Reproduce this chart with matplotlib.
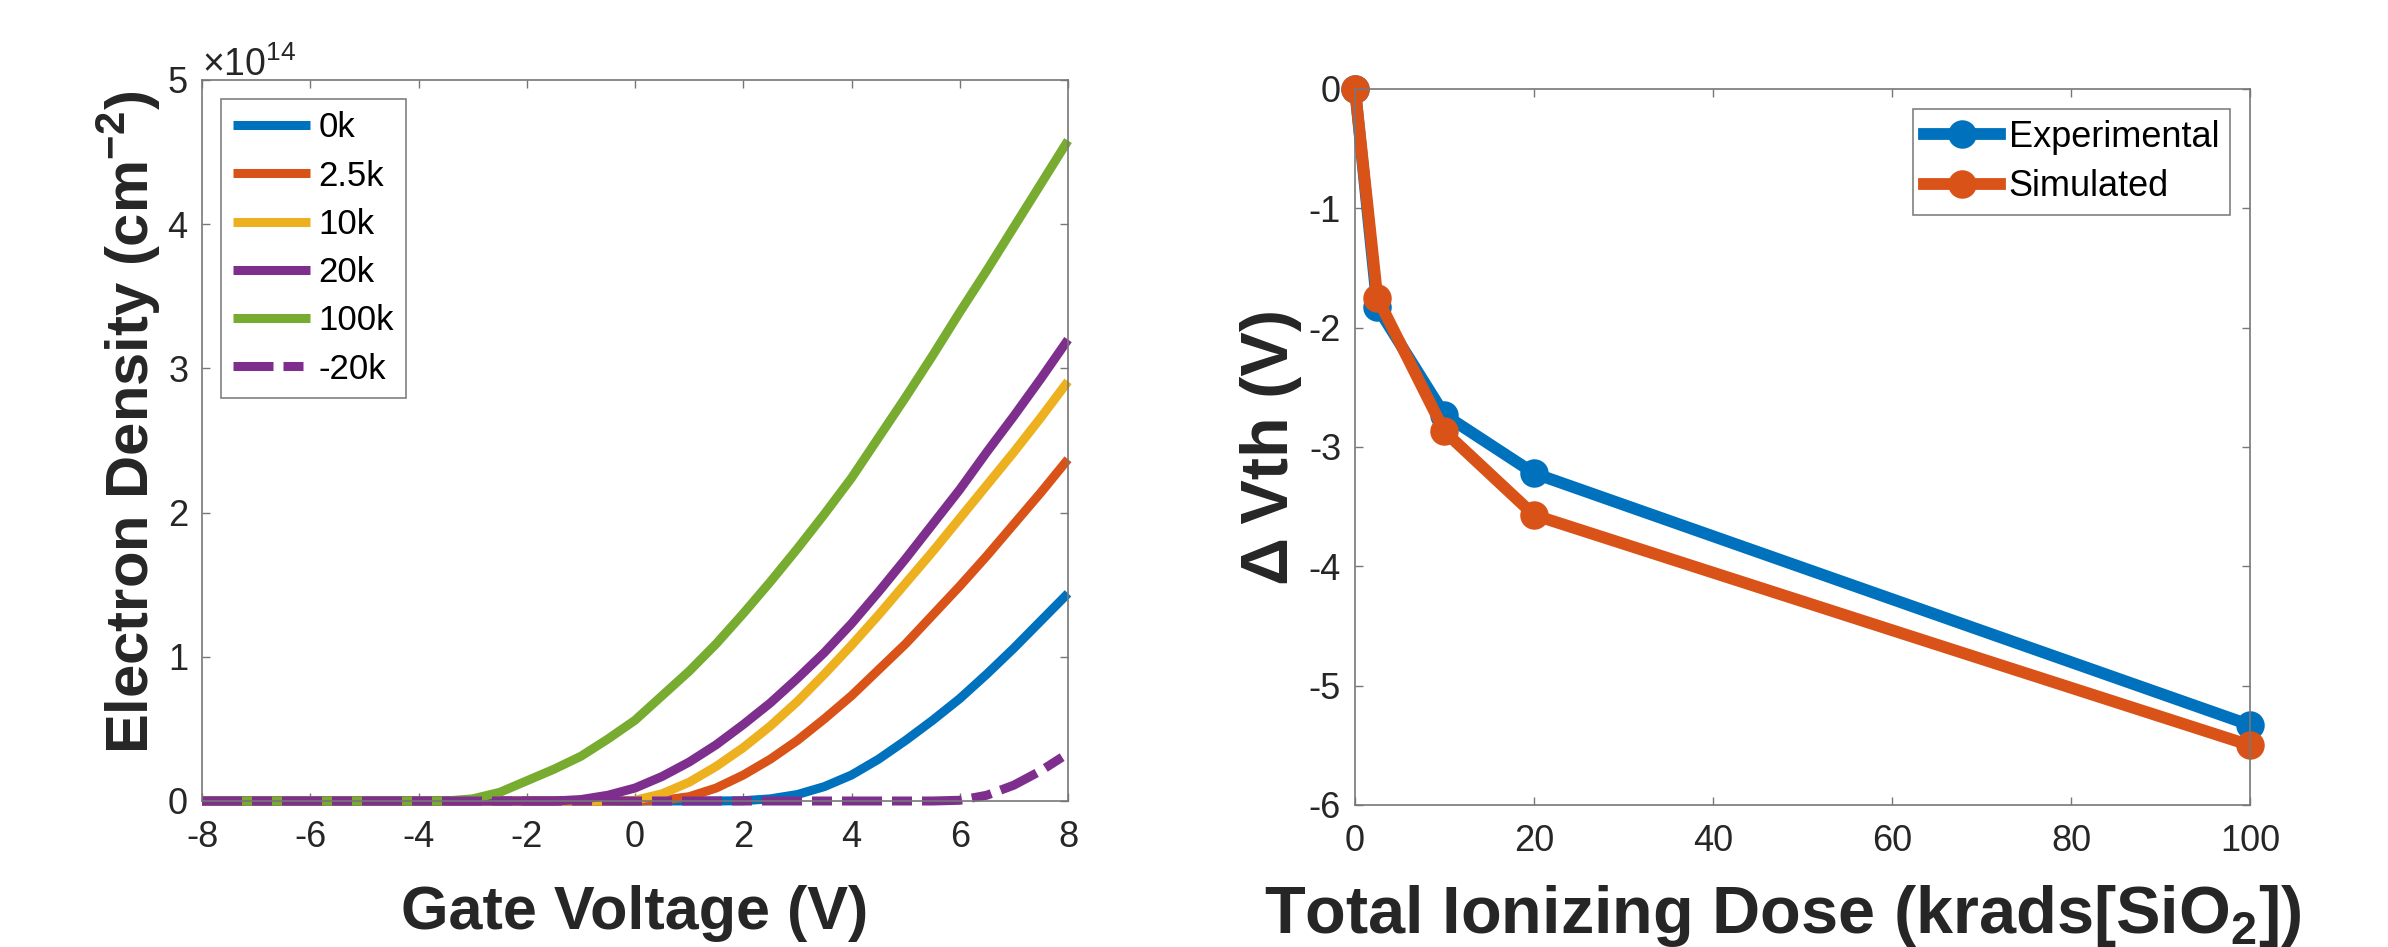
import numpy as np
import matplotlib.pyplot as plt
from matplotlib.ticker import ScalarFormatter, MultipleLocator

plt.rcParams['font.family'] = ['Liberation Sans', 'DejaVu Sans']
plt.rcParams['mathtext.fontset'] = 'custom'
plt.rcParams['mathtext.rm'] = 'Liberation Sans'
plt.rcParams['mathtext.bf'] = 'Liberation Sans:bold'
plt.rcParams['axes.unicode_minus'] = False
plt.rcParams['lines.scale_dashes'] = False

#----------------------------------------------------------------------
# left panel: electron density (units of 1e14 cm^-2) vs gate voltage
v_0k = [-8, 1.5, 2, 2.5, 3, 3.5, 4, 4.5, 5, 5.5, 6, 6.5, 7, 7.5, 8]
n_0k = [0, 0, 0.002, 0.015, 0.045, 0.10, 0.18, 0.29, 0.42, 0.56, 0.71, 0.88, 1.06, 1.25, 1.44]

v_2k5 = [-8, 0, 0.5, 1, 1.5, 2, 2.5, 3, 3.5, 4, 4.5, 5, 5.5, 6, 6.5, 7, 7.5, 8]
n_2k5 = [0, 0, 0.005, 0.03, 0.09, 0.18, 0.29, 0.42, 0.57, 0.73, 0.91, 1.09, 1.29, 1.49, 1.70, 1.92, 2.14, 2.37]

v_10k = [-8, -0.5, 0, 0.5, 1, 1.5, 2, 2.5, 3, 3.5, 4, 4.5, 5, 5.5, 6, 6.5, 7, 7.5, 8]
n_10k = [0, 0, 0.005, 0.05, 0.13, 0.24, 0.37, 0.52, 0.69, 0.88, 1.08, 1.29, 1.51, 1.73, 1.96, 2.19, 2.42, 2.66, 2.91]

v_20k = [-8, -1.5, -1, -0.5, 0, 0.5, 1, 1.5, 2, 2.5, 3, 3.5, 4, 4.5, 5, 5.5, 6, 6.5, 7, 7.5, 8]
n_20k = [0, 0, 0.01, 0.04, 0.09, 0.17, 0.27, 0.39, 0.53, 0.68, 0.85, 1.03, 1.23, 1.45, 1.68, 1.92, 2.16, 2.42, 2.67, 2.93, 3.20]

v_100k = [-8, -3.5, -3, -2.5, -2, -1.5, -1, -0.5, 0, 0.5, 1, 1.5, 2, 2.5, 3, 3.5, 4, 4.5, 5, 5.5, 6, 6.5, 7, 7.5, 8]
n_100k = [0, 0, 0.015, 0.06, 0.14, 0.22, 0.31, 0.43, 0.56, 0.73, 0.90, 1.09, 1.30, 1.52, 1.75, 1.99, 2.24, 2.52, 2.80, 3.09, 3.39, 3.68, 3.98, 4.28, 4.58]

v_m20k = [-8, 5.5, 6, 6.5, 7, 7.5, 8]
n_m20k = [0, 0, 0.005, 0.04, 0.11, 0.21, 0.33]

# right panel: threshold shift vs dose
dose = [0, 2.5, 10, 20, 100]
dvth_exp = [0, -1.83, -2.73, -3.22, -5.33]
dvth_sim = [0, -1.75, -2.87, -3.57, -5.50]

#----------------------------------------------------------------------
blue = '#0072BD'
orange = '#D95319'
yellow = '#EDB120'
purple = '#7E2F8E'
green = '#77AC30'
txt = '#262626'
axc = '#777777'

W, H = 2388, 947
fig = plt.figure(figsize=(W / 100, H / 100), dpi=100)
ax1 = fig.add_axes([202 / W, 1 - 801 / H, 866 / W, 721 / H])
ax2 = fig.add_axes([1355 / W, 1 - 805 / H, 895 / W, 716 / H])

series = [
    (v_0k, n_0k, blue, '0k'),
    (v_2k5, n_2k5, orange, '2.5k'),
    (v_10k, n_10k, yellow, '10k'),
    (v_20k, n_20k, purple, '20k'),
    (v_100k, n_100k, green, '100k'),
]
for v, n, c, lab in series:
    ax1.plot(v, np.array(n) * 1e14, color=c, lw=6.5, label=lab,
             clip_on=False, solid_capstyle='butt', solid_joinstyle='round')
ax1.plot(v_m20k, np.array(n_m20k) * 1e14, color=purple, lw=6.5, label='-20k',
         ls=(0, (28.8, 7.2, 14.4, 7.2)), clip_on=False)

ax1.set_xlim(-8, 8)
ax1.set_ylim(0, 5e14)
ax1.xaxis.set_major_locator(MultipleLocator(2))
ax1.yaxis.set_major_locator(MultipleLocator(1e14))
fmt = ScalarFormatter(useMathText=True)
ax1.yaxis.set_major_formatter(fmt)
ax1.yaxis.get_offset_text().set_fontsize(27)
ax1.yaxis.get_offset_text().set_color(txt)

ax1.set_xlabel('Gate Voltage (V)', fontsize=44, fontweight='bold', color=txt, labelpad=21)
ax1.set_ylabel(r'Electron Density (cm$^{\mathbf{-2}}$)', fontsize=43, fontweight='bold',
               color=txt, labelpad=3)
ax1.yaxis.label.set_y(0.525)

leg1 = ax1.legend(loc='upper left', fontsize=25, handlelength=2.2, handletextpad=0.25,
                  labelspacing=0.44, borderpad=0.35, borderaxespad=0.55,
                  fancybox=False, edgecolor='#808080', framealpha=1)
leg1.get_frame().set_linewidth(1.2)

#----------------------------------------------------------------------
ax2.plot(dose, dvth_exp, 'o-', color=blue, lw=8.5, ms=19, mew=1.5, clip_on=False,
         label='Experimental')
ax2.plot(dose, dvth_sim, 'o-', color=orange, lw=8.5, ms=19, mew=1.5, clip_on=False,
         label='Simulated')
ax2.set_xlim(0, 100)
ax2.set_ylim(-6, 0)
ax2.xaxis.set_major_locator(MultipleLocator(20))
ax2.yaxis.set_major_locator(MultipleLocator(1))

ax2.set_xlabel(r'Total Ionizing Dose (krads[SiO$_{\mathbf{2}}$])', fontsize=48,
               fontweight='bold', color=txt, labelpad=17)
ax2.xaxis.label.set_x(0.478)
ax2.set_ylabel('\u0394\u2009Vth (V)', fontsize=48, fontweight='bold', color=txt, labelpad=5)

leg2 = ax2.legend(loc='upper right', fontsize=26, handlelength=2.1, handletextpad=0.25,
                  labelspacing=0.41, borderpad=0.3, borderaxespad=0.55, numpoints=1,
                  fancybox=False, edgecolor='#808080', framealpha=1)
leg2.get_frame().set_linewidth(1.2)

for ax in (ax1, ax2):
    ax.tick_params(direction='in', length=5.8, width=1, top=True, right=True,
                   labelsize=26, labelcolor=txt, color=axc)
    ax.tick_params(axis='x', pad=14)
    ax.tick_params(axis='y', pad=10)
    for s in ax.spines.values():
        s.set_color(axc)
        s.set_linewidth(1.2)

fig.savefig('out.png', dpi=100)
